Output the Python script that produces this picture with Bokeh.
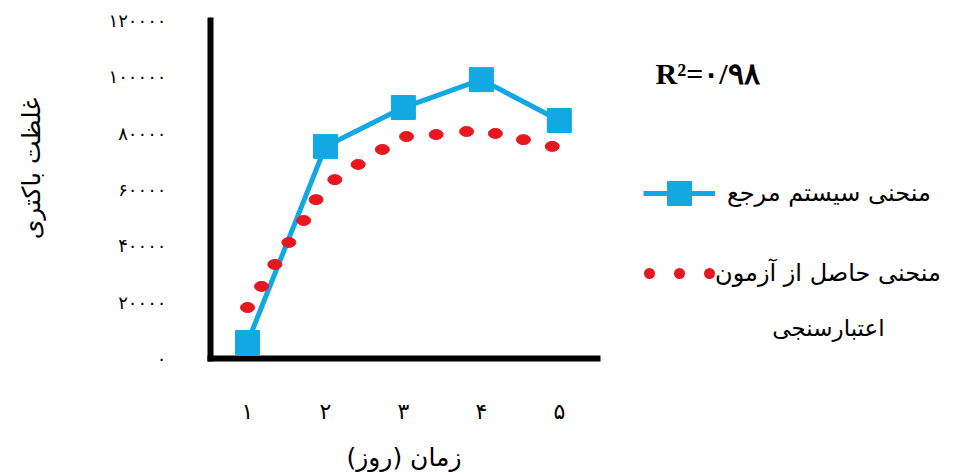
from math import pi

from bokeh.embed import file_html
from bokeh.models import FixedTicker, Label, Legend, LegendItem, Range1d
from bokeh.plotting import figure
from bokeh.resources import INLINE

# ---- data ----
days = [1, 2, 3, 4, 5]
day_labels = ["۱", "۲", "۳", "۴", "۵"]
reference_system = [5700, 75300, 89100, 99000, 84500]

fit_days = [1.00, 1.18, 1.35, 1.53, 1.72, 1.88, 2.12, 2.42, 2.73, 3.04, 3.42, 3.81, 4.18, 4.54, 4.91]
validation_test = [18100, 25600, 33400, 41200, 49000, 56400, 63500, 68900,
                   74200, 78800, 79500, 80600, 79900, 77700, 75300]

y_ticks = [0, 20000, 40000, 60000, 80000, 100000, 120000]
y_tick_labels = ["۰", "۲۰۰۰۰", "۴۰۰۰۰", "۶۰۰۰۰", "۸۰۰۰۰", "۱۰۰۰۰۰", "۱۲۰۰۰۰"]

ref_label = "منحنی سیستم مرجع"
test_label_1 = "منحنی حاصل از آزمون"
test_label_2 = "اعتبارسنجی"
x_title = "زمان (روز)\u200f"
y_title = "غلظت باکتری"
r2_text = "R²=۰/۹۸"

BLUE = "#12A8E4"
RED = "#E8161E"
FA_FONT = "DejaVu Sans"

W, H = 956, 472
p = figure(width=W, height=H, output_backend="svg", toolbar_location=None,
           x_range=Range1d(-2.169, 10.096), y_range=Range1d(-40473, 127101),
           min_border_left=0, min_border_right=0, min_border_top=0,
           min_border_bottom=0)
p.outline_line_color = None
p.grid.visible = False
p.background_fill_color = "white"
p.border_fill_color = "white"

for ax in (p.xaxis[0], p.yaxis[0]):
    ax.axis_line_width = 6
    ax.axis_line_color = "black"
    ax.axis_line_cap = "square"
    ax.major_tick_line_color = None
    ax.minor_tick_line_color = None
    ax.major_tick_out = 0
    ax.major_tick_in = 0
    ax.major_label_text_font = FA_FONT
    ax.major_label_text_color = "black"
    ax.axis_label_text_font = FA_FONT
    ax.axis_label_text_font_style = "normal"
    ax.axis_label_text_color = "black"

p.xaxis.fixed_location = 0
p.xaxis.bounds = (0.525, 5.49)
p.xaxis.ticker = FixedTicker(ticks=days)
p.xaxis.major_label_overrides = {d: s for d, s in zip(days, day_labels)}
p.xaxis.major_label_text_font_size = "22px"
p.xaxis.major_label_standoff = 40
p.xaxis.axis_label = x_title
p.xaxis.axis_label_text_font_size = "25px"
p.xaxis.axis_label_standoff = 16

p.yaxis.fixed_location = 0.525
p.yaxis.bounds = (0, 120000)
p.yaxis.ticker = FixedTicker(ticks=y_ticks)
p.yaxis.major_label_overrides = {t: s for t, s in zip(y_ticks, y_tick_labels)}
p.yaxis.major_label_text_font_size = "18px"
p.yaxis.major_label_standoff = 44

# reference system curve
blue_line = p.line(days, reference_system, line_color=BLUE, line_width=5)
blue_sq = p.scatter(days, reference_system, marker="square", size=24,
                    fill_color=BLUE, line_color=BLUE)

# validation test curve (dots)
p.ellipse(fit_days, validation_test, width=14, height=10,
          width_units="screen", height_units="screen",
          fill_color=RED, line_color=RED)
red_proxy = p.line(fit_days, validation_test, line_color=RED, line_width=11,
                   line_dash="0 30", line_dash_offset=24, line_cap="round",
                   visible=False)

common = dict(padding=0, margin=0, border_line_alpha=0, background_fill_alpha=0,
              label_text_font=FA_FONT, label_text_font_size="24px",
              label_text_color="black")

leg1 = Legend(items=[LegendItem(label=ref_label, renderers=[blue_line, blue_sq])],
              location=(643, 249), glyph_width=72, glyph_height=60,
              label_height=60, label_standoff=12, **common)
leg2 = Legend(items=[LegendItem(label=test_label_1, renderers=[red_proxy])],
              location=(643, 184), glyph_width=72, glyph_height=30,
              label_height=30, label_standoff=0, **common)
p.add_layout(leg1)
p.add_layout(leg2)

p.add_layout(Label(x=828, y=145, x_units="screen", y_units="screen", text=test_label_2,
                   text_align="center", text_baseline="middle",
                   text_font=FA_FONT, text_font_size="23px", text_color="black"))

p.add_layout(Label(x=655, y=399, x_units="screen", y_units="screen", text=r2_text,
                   text_align="left", text_baseline="middle",
                   text_font="Liberation Serif", text_font_style="bold",
                   text_font_size="30px", text_color="black"))

p.add_layout(Label(x=31, y=304, x_units="screen", y_units="screen", text=y_title,
                   angle=pi / 2, text_align="center", text_baseline="middle",
                   text_font=FA_FONT, text_font_size="25px", text_color="black"))

open("out.html", "w").write(file_html(p, INLINE))
